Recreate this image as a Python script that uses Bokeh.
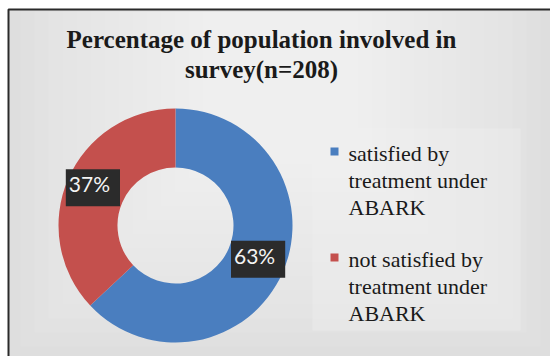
import math

from bokeh.core.properties import value
from bokeh.embed import file_html
from bokeh.models import ColumnDataSource, Label, Range1d
from bokeh.plotting import figure
from bokeh.resources import INLINE

# Survey responses (share of respondents, %)
categories = [
    "satisfied by\ntreatment under\nABARK",
    "not satisfied by\ntreatment under\nABARK",
]
shares = [63, 37]
colors = ["#4a7ebf", "#c4504d"]
title_text = "Percentage of population involved in\nsurvey(n=208)"

SERIF = "Liberation Serif"

W, H = 550, 356
p = figure(width=W, height=H, output_backend="svg", toolbar_location=None,
           x_range=Range1d(0, W), y_range=Range1d(0, H), min_border=0)
p.axis.visible = False
p.grid.visible = False
p.outline_line_color = None
p.background_fill_color = "white"
p.border_fill_color = "white"

# chart area: light grey panel with a dark frame on the top/left edges
p.quad(left=8, right=W + 20, bottom=-20, top=H - 9,
       fill_color="#dedede", line_color="#2a2a2a", line_width=2)
# soft vignette: lighter toward the upper middle of the panel
n = 14
for i in range(n):
    p.quad(left=20 + 14 * i, right=540 - 14 * i, bottom=10 + 14 * i,
           top=H - 11, fill_color="#ffffff", fill_alpha=0.07,
           line_color=None)
# legend panel
p.quad(left=312, right=520, bottom=H - 330, top=H - 128,
       fill_color="#f2f2f2", line_color=None, fill_alpha=0.35)

# donut
cx, cy = 175, H - 225
r_in, r_out = 58, 117
total = float(sum(shares))
starts, ends, mids = [], [], []
acc = 0.0
for s in shares:
    a0 = math.pi / 2 - 2 * math.pi * acc / total
    acc += s
    a1 = math.pi / 2 - 2 * math.pi * acc / total
    starts.append(a0)
    ends.append(a1)
    mids.append((a0 + a1) / 2)

src = ColumnDataSource(dict(start=starts, end=ends, color=colors))
p.annular_wedge(x=cx, y=cy, inner_radius=r_in, outer_radius=r_out,
                inner_radius_units="screen", outer_radius_units="screen",
                start_angle="start", end_angle="end", direction="clock",
                fill_color="color", line_color=None, source=src)

# percentage labels at the middle of each segment
r_lab = 90
lab = ColumnDataSource(dict(
    x=[cx + r_lab * math.cos(m) for m in mids],
    y=[cy + 2 + r_lab * math.sin(m) for m in mids],
    t=[f"{s}%" for s in shares],
))
p.text(x="x", y="y", text="t", source=lab, text_align="center",
       text_baseline="middle", text_color="#f4f4f4",
       text_font=value("Lato"), text_font_size="21px",
       background_fill_color="#2b2b2b", padding=[3, 10, 2, 10])

# legend
leg_x, leg_y0, leg_step = 334, H - 151, 106
for i, (c, name) in enumerate(zip(colors, categories)):
    y = leg_y0 - i * leg_step
    p.rect(x=leg_x, y=y, width=8, height=8, fill_color=c, line_color=None)
    p.text(x=leg_x + 14, y=y + 11, text=[name], text_align="left",
           text_baseline="top", text_color="#1a1a1a",
           text_font=value(SERIF), text_font_size="22px",
           text_line_height=1.09)

# title
p.add_layout(Label(x=261, y=H - 25, text=title_text,
                   x_units="data", y_units="data",
                   text_align="center", text_baseline="top",
                   text_font=SERIF, text_font_style="bold",
                   text_font_size="25px", text_color="#1a1a1a",
                   text_line_height=1.12))

open("out.html", "w").write(file_html(p, INLINE))
